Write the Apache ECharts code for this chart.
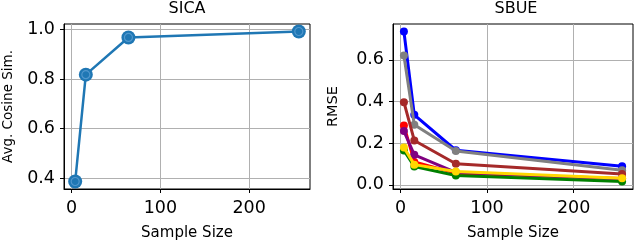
<!DOCTYPE html>
<html><head><meta charset="utf-8">
<script src="https://cdn.jsdelivr.net/npm/echarts@6/dist/echarts.min.js"></script>
<style>html,body{margin:0;padding:0;background:#fff}#c{width:640px;height:246px}</style>
</head><body><div id="c"></div>
<script>
// Data
const sampleSizes = [4, 16, 64, 256];
const sicaCosine = [0.387, 0.818, 0.968, 0.992];
const sbueBlue   = [0.736, 0.336, 0.166, 0.089];
const sbueGray   = [0.621, 0.288, 0.162, 0.070];
const sbueBrown  = [0.397, 0.213, 0.101, 0.052];
const sbueRed    = [0.285, 0.110, 0.056, 0.030];
const sbuePurple = [0.258, 0.144, 0.060, 0.028];
const sbueGreen  = [0.165, 0.088, 0.045, 0.016];
const sbueYellow = [0.179, 0.097, 0.064, 0.032];
const xTicks = [0, 100, 200];
const sicaYTicks = [0.4, 0.6, 0.8, 1.0];
const sbueYTicks = [0.0, 0.2, 0.4, 0.6];

const sbueSeries = [
  {name:'blue', color:'#0000ff', data:sbueBlue},
  {name:'gray', color:'#808080', data:sbueGray},
  {name:'brown', color:'#a52a2a', data:sbueBrown},
  {name:'red', color:'#ff0000', data:sbueRed},
  {name:'purple', color:'#800080', data:sbuePurple},
  {name:'green', color:'#008000', data:sbueGreen},
  {name:'yellow', color:'#ffd700', data:sbueYellow}
];

function pad(vals){const mn=Math.min(...vals),mx=Math.max(...vals),r=mx-mn;return [mn-0.05*r,mx+0.05*r];}
const xr = pad(sampleSizes);
const y1r = pad(sicaCosine);
const y2r = pad([].concat(...sbueSeries.map(s=>s.data)));

const FONT = 'DejaVu Sans';
function xAxis(gi){
  return {type:'value', gridIndex:gi, min:xr[0], max:xr[1],
    name:'Sample Size', nameLocation:'middle', nameGap:37,
    nameTextStyle:{fontFamily:FONT, fontSize:15, color:'#000'},
    axisLine:{show:true, onZero:false, lineStyle:{color:'#000', width:1}},
    axisTick:{show:true, length:4, inside:false, customValues:xTicks, lineStyle:{color:'#000', width:1}},
    axisLabel:{customValues:xTicks, fontFamily:FONT, fontSize:17.5, color:'#000', margin:10, formatter:v=>String(Math.round(v))},
    splitLine:{show:true, lineStyle:{color:'#b0b0b0', width:1}}
  };
}
function yAxis(gi, r, ticks, name, gap, nfs){
  return {type:'value', gridIndex:gi, min:r[0], max:r[1],
    name:name, nameLocation:'middle', nameGap:gap,
    nameTextStyle:{fontFamily:FONT, fontSize:nfs, color:'#000'},
    axisLine:{show:true, onZero:false, lineStyle:{color:'#000', width:1}},
    axisTick:{show:true, length:4, customValues:ticks, lineStyle:{color:'#000', width:1}},
    axisLabel:{customValues:ticks, fontFamily:FONT, fontSize:17.5, color:'#000', margin:9, formatter:v=>v.toFixed(1)},
    splitLine:{show:true, lineStyle:{color:'#b0b0b0', width:1}}
  };
}
const xy = arr => sampleSizes.map((x,i)=>[x, arr[i]]);

const series = [
  {type:'line', xAxisIndex:0, yAxisIndex:0, data:xy(sicaCosine), symbol:'circle', symbolSize:14,
   lineStyle:{color:'#1f77b4', width:2.5}, itemStyle:{color:'#1f77b4'}, z:3},
  {type:'scatter', xAxisIndex:0, yAxisIndex:0, data:xy(sicaCosine), symbol:'circle', symbolSize:8,
   itemStyle:{color:'transparent', borderColor:'#5d9fd3', borderWidth:1.2}, z:4, silent:true}
];
sbueSeries.forEach((s,i)=>{
  series.push({type:'line', name:s.name, xAxisIndex:1, yAxisIndex:1, data:xy(s.data), symbol:'circle', symbolSize:8,
    lineStyle:{color:s.color, width:3}, itemStyle:{color:s.color}, z:3+i*0.01});
});

const chart = echarts.init(document.getElementById('c'), null, {renderer:'canvas'});
chart.setOption({
  animation:false,
  backgroundColor:'#fff',
  title:[
    {text:'SICA', left:187, top:1, textAlign:'center', padding:0, textStyle:{fontFamily:FONT, fontSize:16, fontWeight:'normal', color:'#000'}},
    {text:'SBUE', left:516, top:1, textAlign:'center', padding:0, textStyle:{fontFamily:FONT, fontSize:16, fontWeight:'normal', color:'#000'}}
  ],
  grid:[
    {left:64, top:24, width:246, height:167, show:true, borderColor:'#000', borderWidth:1, backgroundColor:'transparent'},
    {left:393, top:24, width:240, height:167, show:true, borderColor:'#000', borderWidth:1, backgroundColor:'transparent'}
  ],
  xAxis:[xAxis(0), xAxis(1)],
  yAxis:[yAxis(0, y1r, sicaYTicks, 'Avg. Cosine Sim.', 49, 13.5), yAxis(1, y2r, sbueYTicks, 'RMSE', 52, 14.5)],
  series:series
});
</script></body></html>
